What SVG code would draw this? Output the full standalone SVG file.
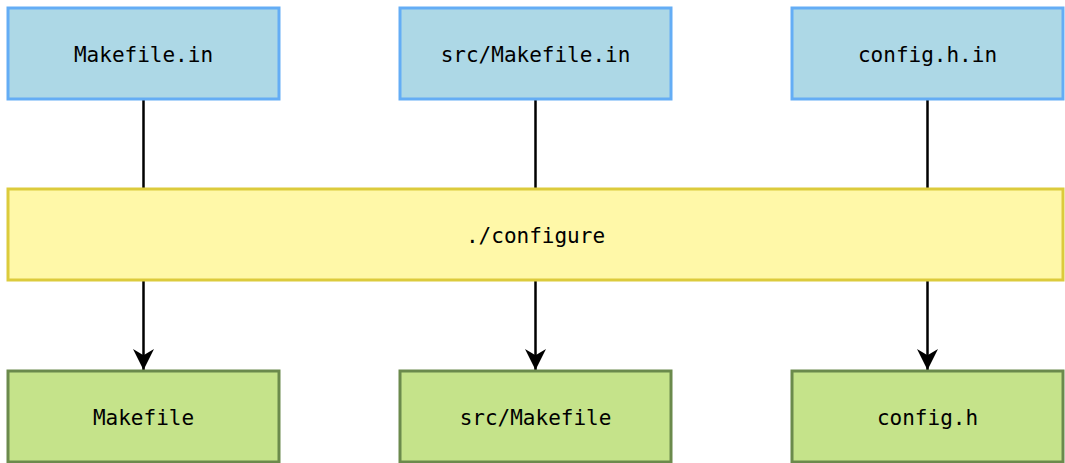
<svg xmlns="http://www.w3.org/2000/svg" width="1065" height="463" viewBox="0 0 1065 463">
<defs>
<style>
.in rect{fill:#add8e6;stroke:#64adf5;stroke-width:3}
.cf rect{fill:#fff8a8;stroke:#dccb3c;stroke-width:3}
.out rect{fill:#c5e38a;stroke:#6b8a4c;stroke-width:3}
text{font-family:"DejaVu Sans Mono","Liberation Mono",monospace;font-size:21px;fill:#000;text-anchor:middle;dominant-baseline:central}
.edge{stroke:#000;stroke-width:2.5;fill:none}
</style>
<marker id="arr" viewBox="0 0 20 20" refX="20" refY="10" markerWidth="21" markerHeight="21" markerUnits="userSpaceOnUse" orient="auto">
<path d="M0,0 L20,10 L0,20 L6,10 Z" fill="#000"/>
</marker>
</defs>
<g id="connectors">
<line class="edge" x1="143.5" y1="99" x2="143.5" y2="189"/>
<line class="edge" x1="535.5" y1="99" x2="535.5" y2="189"/>
<line class="edge" x1="927.5" y1="99" x2="927.5" y2="189"/>
<line class="edge" x1="143.5" y1="280" x2="143.5" y2="370" marker-end="url(#arr)"/>
<line class="edge" x1="535.5" y1="280" x2="535.5" y2="370" marker-end="url(#arr)"/>
<line class="edge" x1="927.5" y1="280" x2="927.5" y2="370" marker-end="url(#arr)"/>
</g>
<g id="makefile-in" class="in"><rect x="8" y="8" width="271" height="91"/><text x="143.5" y="55">Makefile.in</text></g>
<g id="src-makefile-in" class="in"><rect x="400" y="8" width="271" height="91"/><text x="535.5" y="55">src/Makefile.in</text></g>
<g id="config-h-in" class="in"><rect x="792" y="8" width="271" height="91"/><text x="927.5" y="55">config.h.in</text></g>
<g id="configure" class="cf"><rect x="8" y="189" width="1055" height="91"/><text x="535.5" y="236">./configure</text></g>
<g id="makefile" class="out"><rect x="8" y="371" width="271" height="91"/><text x="143.5" y="418">Makefile</text></g>
<g id="src-makefile" class="out"><rect x="400" y="371" width="271" height="91"/><text x="535.5" y="418">src/Makefile</text></g>
<g id="config-h" class="out"><rect x="792" y="371" width="271" height="91"/><text x="927.5" y="418">config.h</text></g>
</svg>
